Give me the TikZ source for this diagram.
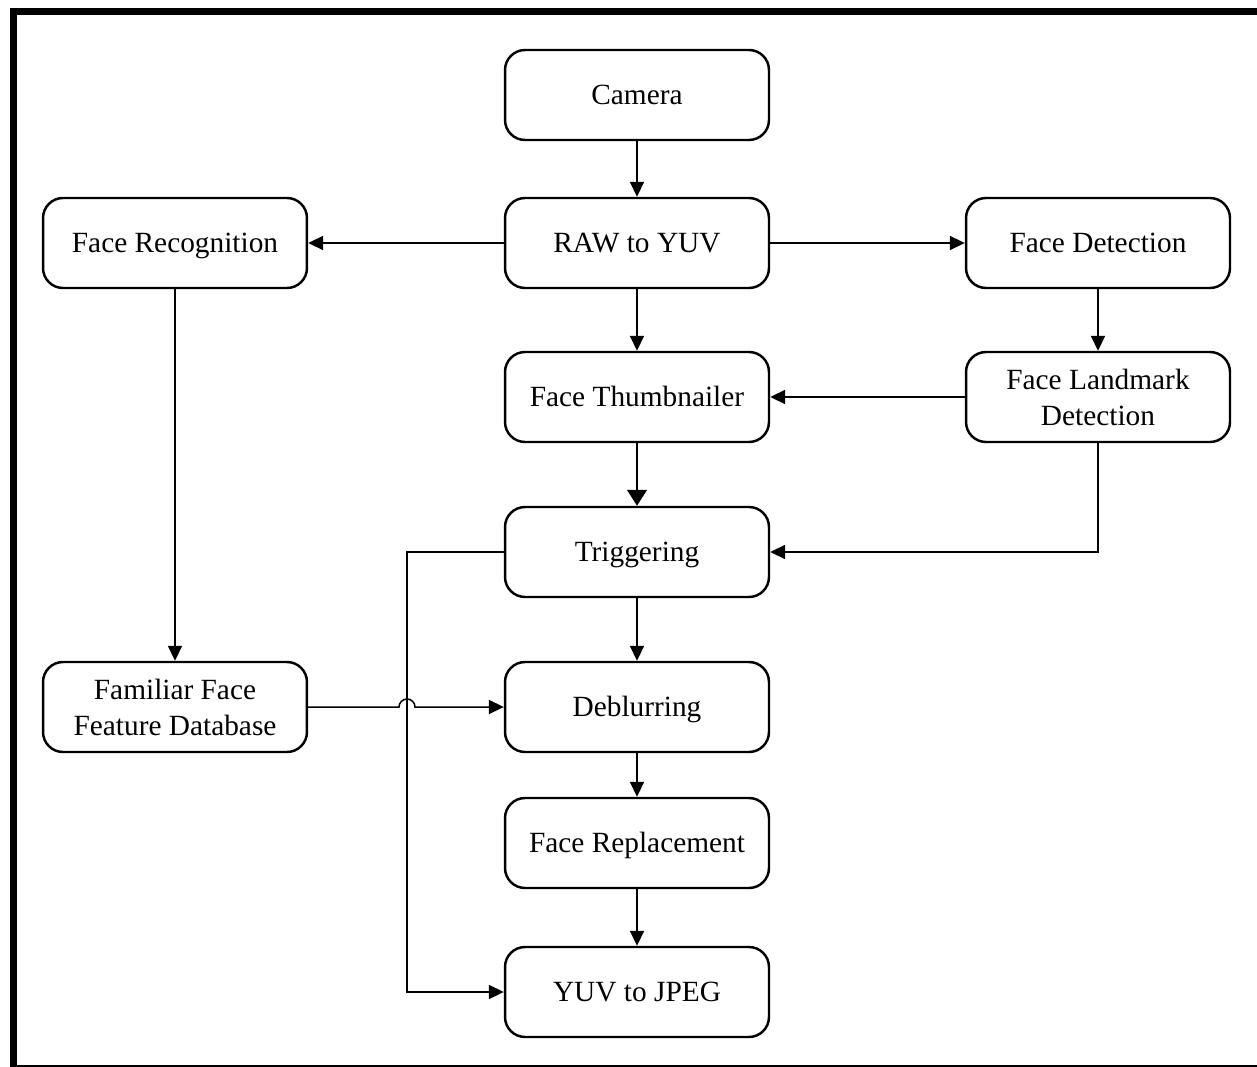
\documentclass[tikz,border=0pt]{standalone}
\usepackage{fontspec}
\setmainfont{Liberation Serif}
\usetikzlibrary{arrows.meta}
\begin{document}
\begin{tikzpicture}[x=0.02cm,y=-0.02cm,
  basebox/.style={draw,line width=1.4pt,rounded corners=0.4cm,minimum width=5.28cm,minimum height=1.8cm,inner sep=0pt,font=\fontsize{16.7}{20.5}\selectfont},
  onebox/.style={basebox,text height=11pt,text depth=0pt},
  box/.style={basebox,align=center},
  conn/.style={line width=0.85pt,-{Triangle[length=8.5pt,width=8pt]}},
  thick conn/.style={line width=1.5pt,-{Triangle[length=9pt,width=11pt]}}]
\useasboundingbox (0,0) rectangle (1257,1067);
\draw[line width=7*0.567pt] (13.5,11.5) rectangle (1270,1068.5);
\node[onebox] (cam) at (637,95) {Camera};
\node[onebox] (raw) at (637,243) {RAW to YUV};
\node[onebox] (rec) at (175,243) {Face Recognition};
\node[onebox] (det) at (1098,243) {Face Detection};
\node[onebox] (thu) at (637,397) {Face Thumbnailer};
\node[box] (lm) at (1098,397) {Face Landmark\\Detection};
\node[onebox] (trig) at (637,552) {Triggering};
\node[box] (db) at (175,707) {Familiar Face\\Feature Database};
\node[onebox] (deb) at (637,707) {Deblurring};
\node[onebox] (rep) at (637,843) {Face Replacement};
\node[onebox] (jpeg) at (637,992) {YUV to JPEG};
\coordinate (c1) at (407,552);
\coordinate (j1) at (399,707);
\draw[conn] (cam) -- (raw);
\draw[conn] (raw) -- (rec);
\draw[conn] (raw) -- (det);
\draw[conn] (raw) -- (thu);
\draw[conn] (det) -- (lm);
\draw[conn] (lm) -- (thu);
\draw[thick conn] (thu) -- (trig);
\draw[conn] (lm.south) |- (trig.east);
\draw[conn] (rec) -- (db);
\draw[conn] (trig.west) -- (c1) |- (jpeg.west);
\draw[conn] (trig) -- (deb);
\draw[conn] (db.east) -- (j1) arc[start angle=180,end angle=0,radius=0.16cm] -- (deb.west);
\draw[conn] (deb) -- (rep);
\draw[conn] (rep) -- (jpeg);
\end{tikzpicture}
\end{document}
